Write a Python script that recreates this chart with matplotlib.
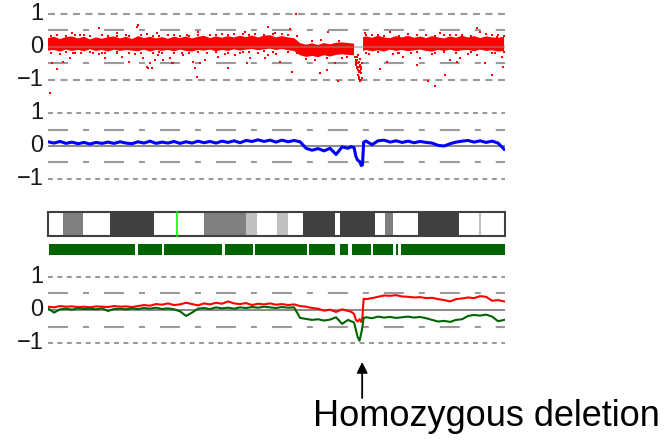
import numpy as np
import matplotlib
matplotlib.use("Agg")
import matplotlib.pyplot as plt

plt.rcParams['font.family'] = ['Liberation Sans', 'DejaVu Sans']
plt.rcParams['lines.scale_dashes'] = False

# Chromosome length (Mb)
chrom_len = 152.3

# Sample positions (Mb) shared by the segmented profiles
line_x = np.concatenate([np.arange(0, 102, 2),
                         [101, 102, 102.6, 103.2, 103.8, 104.4, 104.8, 105.2],
                         np.arange(106, 153, 2)])

# Panel 2: smoothed copy number (blue)
blue_y = [0.13, 0.09, 0.14, 0.08, 0.12, 0.07, 0.11, 0.06, 0.11, 0.08, 0.12, 0.08, 0.13,
          0.09, 0.07, 0.13, 0.09, 0.15, 0.08, 0.12, 0.09, 0.14, 0.08, 0.13, 0.09, 0.15,
          0.10, 0.14, 0.09, 0.15, 0.11, 0.16, 0.10, 0.17, 0.14, 0.19, 0.14, 0.18, 0.12,
          0.18, 0.13, 0.17, 0.13, -0.07, -0.13, -0.08, -0.15, -0.07, -0.26, -0.03, -0.07,
          -0.02, -0.05, -0.32, -0.44, -0.47, -0.60, -0.58, 0.12,
          0.15, 0.04, 0.16, 0.18, 0.12, 0.16, 0.11, 0.15, 0.10, 0.14, 0.11, 0.09, 0.02,
          0.00, 0.07, 0.12, 0.15, 0.17, 0.12, 0.16, 0.11, 0.15, 0.09, -0.10]

# Panel 3: two profiles (red and green)
red_y = [0.10, 0.08, 0.12, 0.10, 0.11, 0.09, 0.10, 0.08, 0.11, 0.10, 0.09, 0.12, 0.10,
         0.11, 0.09, 0.12, 0.15, 0.13, 0.18, 0.16, 0.20, 0.15, 0.17, 0.22, 0.18, 0.14,
         0.20, 0.17, 0.22, 0.19, 0.26, 0.20, 0.18, 0.21, 0.15, 0.19, 0.17, 0.20, 0.16,
         0.18, 0.15, 0.17, 0.12, 0.10, 0.06, 0.04, -0.02, 0.01, -0.06, 0.02, -0.03,
         -0.05, -0.12, -0.30, -0.35, -0.28, -0.36, -0.20, 0.34,
         0.33, 0.36, 0.40, 0.44, 0.43, 0.45, 0.41, 0.40, 0.38, 0.39, 0.36, 0.37, 0.33,
         0.30, 0.26, 0.33, 0.35, 0.38, 0.36, 0.42, 0.40, 0.28, 0.30, 0.26]

green_y = [0.05, -0.08, 0.02, 0.04, 0.01, 0.05, 0.03, 0.04, 0.02, 0.05, -0.03, 0.03, 0.04,
           0.02, 0.05, 0.03, 0.06, 0.04, 0.07, 0.03, 0.05, 0.02, -0.04, -0.18, -0.08, 0.04,
           0.06, 0.03, 0.08, 0.05, 0.07, 0.04, 0.08, 0.06, 0.09, 0.07, 0.10, 0.08, 0.06,
           0.09, 0.07, 0.08, -0.24, -0.27, -0.30, -0.28, -0.32, -0.29, -0.22, -0.42, -0.30,
           -0.34, -0.38, -0.60, -0.82, -0.93, -0.70, -0.50, -0.24,
           -0.22, -0.25, -0.20, -0.23, -0.21, -0.24, -0.22, -0.20, -0.23, -0.21, -0.25,
           -0.30, -0.35, -0.33, -0.36, -0.30, -0.28, -0.18, -0.15, -0.17, -0.14, -0.20,
           -0.34, -0.30]

# Panel 1: dense band of raw log ratios (upper / lower envelope)
band_x = list(range(0, 104, 2)) + [103.5] + [105] + list(range(106, 153, 2))
band_hi = [0.27, 0.31, 0.24, 0.30, 0.32, 0.26, 0.31, 0.23, 0.29, 0.25, 0.30, 0.32, 0.26,
           0.31, 0.24, 0.33, 0.27, 0.31, 0.26, 0.30, 0.25, 0.31, 0.27, 0.32, 0.26, 0.31,
           0.34, 0.27, 0.32, 0.28, 0.33, 0.29, 0.34, 0.30, 0.35, 0.29, 0.34, 0.36, 0.29,
           0.33, 0.29, 0.27, 0.12, 0.07, 0.11, 0.06, 0.12, 0.08, 0.13, 0.14, 0.12, 0.10,
           np.nan, 0.30,
           0.32, 0.28, 0.34, 0.29, 0.27, 0.33, 0.29, 0.34, 0.28, 0.32, 0.27, 0.33, 0.29,
           0.26, 0.32, 0.28, 0.34, 0.29, 0.33, 0.27, 0.32, 0.29, 0.28, 0.31]
band_lo = [-0.11, -0.09, -0.14, -0.08, -0.12, -0.09, -0.13, -0.07, -0.12, -0.09, -0.14,
           -0.08, -0.12, -0.09, -0.11, -0.13, -0.08, -0.14, -0.09, -0.12, -0.09, -0.13,
           -0.08, -0.12, -0.14, -0.09, -0.11, -0.08, -0.13, -0.09, -0.12, -0.07, -0.11,
           -0.08, -0.06, -0.10, -0.07, -0.05, -0.09, -0.06, -0.10, -0.12, -0.25, -0.30,
           -0.27, -0.31, -0.25, -0.29, -0.24, -0.22, -0.24, -0.25,
           np.nan, -0.12,
           -0.09, -0.13, -0.10, -0.14, -0.08, -0.12, -0.09, -0.13, -0.10, -0.08, -0.12,
           -0.14, -0.09, -0.12, -0.08, -0.13, -0.10, -0.09, -0.13, -0.08, -0.12, -0.10,
           -0.14, -0.12]

# Panel 1: scattered probes outside the band
scatter_x = [0.7, 1.4, 2.9, 5.1, 7.3, 8.4, 15.1, 19.0, 19.0, 22.9, 24.6, 27.1, 31.8, 32.9,
             33.4, 34.0, 34.6, 35.7, 36.8, 38.4, 40.7, 41.2, 41.8, 44.6, 48.4, 49.0, 49.6,
             50.7, 52.3, 56.8, 60.1, 62.3, 66.2, 67.3, 72.3, 73.4, 77.3, 81.2, 90.7, 92.9,
             95.7, 96.8, 99.6, 110.7, 112.9, 116.8, 118.4, 122.9, 124.0, 126.8, 129.0,
             132.3, 134.0, 136.2, 137.3, 145.7, 147.9, 151.2, 151.8,
             7.9, 10.7, 17.1, 22.9, 29.6, 30.1, 36.2, 46.2, 50.1, 65.7, 73.4, 75.7, 80.7,
             82.7, 93.4, 105.7, 114.0, 130.7, 142.9, 144.0, 149.6,
             3, 12, 20, 26, 33, 40, 44, 54, 58, 62, 69, 78, 88, 91, 97, 108, 112, 120, 126,
             134, 138, 146, 150,
             4, 11, 17, 29, 38, 45, 53, 59, 64, 70, 76, 86, 89, 93, 98, 107, 115, 121, 128,
             140, 143, 149,
             1, 6, 9, 14, 18, 23, 27, 31, 35, 37, 42, 47, 50, 56, 60, 65, 67, 72, 75, 80,
             83, 106, 110, 117, 123, 129, 132, 136, 141, 148, 152,
             1, 6, 9, 14, 18, 23, 27, 31, 35, 37, 42, 47, 50, 56, 60, 65, 67, 72, 75, 80,
             83, 106, 110, 117, 123, 129, 132, 136, 141, 148, 152]
scatter_y = [-1.39, -0.50, -0.68, -0.45, -0.34, -0.19, -0.19, -0.19, -0.34, -0.19, -0.29,
             -0.45, -0.34, -0.60, -0.65, -0.49, -0.65, -0.39, -0.24, -0.39, -0.34, -0.49,
             -0.49, -0.19, -0.45, -0.65, -0.90, -0.49, -0.39, -0.29, -0.65, -0.24, -0.49,
             -0.34, -0.34, -0.24, -0.45, -0.75, -0.80, -0.70, -0.49, -1.03, -0.29, -0.68,
             -0.45, -0.19, -0.29, -0.55, -0.34, -1.03, -1.18, -0.85, -0.39, -0.45, -0.34,
             -0.49, -0.85, -0.29, -0.60,
             0.41, 0.36, 0.57, 0.41, 0.62, 0.67, 0.41, 0.36, 0.46, 0.46, 0.62, 0.41, 0.54,
             1.00, 0.46, 0.41, 0.46, 0.41, 0.57, 0.46, 0.31,
             0.35, 0.37, 0.34, 0.36, 0.38, 0.35, 0.33, 0.37, 0.40, 0.38, 0.40, 0.38, 0.18,
             0.20, 0.19, 0.37, 0.34, 0.38, 0.36, 0.37, 0.35, 0.38, 0.36,
             -0.20, -0.18, -0.22, -0.20, -0.19, -0.24, -0.18, -0.21, -0.19, -0.17, -0.20,
             -0.36, -0.40, -0.34, -0.33, -0.20, -0.22, -0.18, -0.21, -0.20, -0.23, -0.19,
             0.33, 0.34, 0.36, 0.33, 0.35, 0.34, 0.33, 0.36, 0.34, 0.33, 0.35, 0.34, 0.37,
             0.35, 0.36, 0.38, 0.37, 0.36, 0.39, 0.35, 0.33, 0.35, 0.36, 0.34, 0.37, 0.33,
             0.35, 0.36, 0.34, 0.35, 0.33,
             -0.17, -0.16, -0.18, -0.15, -0.17, -0.16, -0.18, -0.17, -0.19, -0.16, -0.18,
             -0.17, -0.16, -0.15, -0.17, -0.14, -0.15, -0.13, -0.14, -0.16, -0.18, -0.17,
             -0.16, -0.18, -0.15, -0.17, -0.16, -0.18, -0.15, -0.17, -0.16]

# Panel 1: probes inside the homozygous deletion
deletion_x = [102.4, 102.6, 102.8, 103.0, 103.2, 103.4, 103.6, 103.8, 104.0, 104.2, 104.4,
              104.6, 102.5, 102.9, 103.3, 103.7, 104.1, 104.5, 102.7, 103.1, 103.5, 103.9,
              104.3, 103.0, 103.6, 104.2, 103.3, 103.9]
deletion_y = [-0.30, -0.45, -0.55, -0.60, -0.50, -0.70, -0.62, -0.75, -0.55, -0.68, -0.80,
              -0.50, -0.38, -0.65, -0.85, -0.90, -0.72, -0.95, -0.50, -0.40, -0.98, -1.02,
              -0.60, -0.30, -0.45, -1.00, -0.25, -0.35]

# Cytoband ideogram: start, end (Mb) and stain
band_start = [0, 5, 11.7, 20.7, 35.3, 52, 66, 69.7, 76.3, 80, 85, 95.7, 97.3, 109, 112.3,
              115, 123.3, 137, 143.7, 144.3]
band_end = [5, 11.7, 20.7, 35.3, 52, 66, 69.7, 76.3, 80, 85, 95.7, 97.3, 109, 112.3, 115,
            123.3, 137, 143.7, 144.3, 152.3]
band_stain = ['gneg', 'gpos50', 'gneg', 'gpos75', 'gneg', 'gpos50', 'gpos25', 'gneg',
              'gpos25', 'gneg', 'gpos75', 'gneg', 'gpos75', 'gneg', 'gpos50', 'gneg',
              'gpos75', 'gneg', 'gpos25', 'gneg']
centromere = 43.0

# Covered segments under the ideogram (Mb)
cover_start = [0.3, 30, 38.7, 59, 69, 87, 97.3, 101.3, 108.3, 116, 117.7]
cover_end = [29, 38, 58, 68.3, 86.3, 95.7, 100, 107.7, 115, 116.7, 152.3]

stain_colors = {'gneg': 'white', 'gpos25': '#c0c0c0', 'gpos50': '#808080', 'gpos75': '#404040'}


def px_axes(fig, top, bottom):
    # axes placed with pixel rows (from the top of the figure)
    H = 447.0
    ax = fig.add_axes([48 / 665.0, 1 - bottom / H, 457 / 665.0, (bottom - top) / H])
    ax.set_xlim(0, chrom_len)
    ax.axis('off')
    return ax


def draw_grid(ax, short_dash):
    for v in (1, -1):
        ax.axhline(v, color='#9a9a9a', lw=1.5, dashes=short_dash, zorder=1)
    for v in (0.5, -0.5):
        ax.axhline(v, color='#9a9a9a', lw=1.5, dashes=(14.4, 10.8, 4.3, 10.8), zorder=1)
    for v, lab in ((1, '1'), (0, '0'), (-1, '\u22121')):
        ax.text(-1.5, v, lab, ha='right', va='center', fontsize=17, color='#1a1a1a')


def main():
    fig = plt.figure(figsize=(6.65, 4.47), dpi=100)

    # Panel 1: raw ratios
    ax1 = px_axes(fig, 1, 95)
    ax1.set_ylim(-1.455, 1.394)
    draw_grid(ax1, (5.0, 4.0))
    ax1.fill_between(band_x, band_lo, band_hi, color='red', lw=0, zorder=2)
    ax1.axhline(0, color='#8c8c8c', lw=1.5, alpha=0.5, zorder=3)
    ax1.plot(scatter_x, scatter_y, 's', ms=2.0, mew=0, color='red', zorder=4)
    ax1.plot(deletion_x, deletion_y, 's', ms=2.0, mew=0, color='red', zorder=4)

    # Panel 2: smoothed profile
    ax2 = px_axes(fig, 100, 192)
    ax2.set_ylim(-1.415, 1.415)
    draw_grid(ax2, (3.5, 3.3))
    ax2.axhline(0, color='#8c8c8c', lw=1.5, zorder=2)
    ax2.plot(line_x, blue_y, color='blue', lw=2.2, zorder=3)

    # Ideogram and covered segments
    axi = px_axes(fig, 205, 260)
    axi.set_ylim(0, 1)
    y0, y1 = 0.436, 0.873
    for s, e, st in zip(band_start, band_end, band_stain):
        axi.broken_barh([(s, e - s)], (y0, y1 - y0), facecolors=stain_colors[st], lw=0)
    axi.plot([centromere, centromere], [y0, y1], color='#00ff00', lw=1.2)
    axi.add_patch(plt.Rectangle((0, y0), chrom_len, y1 - y0, fill=False,
                                edgecolor='#404040', lw=1.5, clip_on=False))
    segs = [(s, e - s) for s, e in zip(cover_start, cover_end)]
    axi.broken_barh(segs, (0.091, 0.2), facecolors='#006400', lw=0)

    # Panel 3: two profiles
    ax3 = px_axes(fig, 262, 358)
    ax3.set_ylim(-1.4545, 1.4545)
    draw_grid(ax3, (3.5, 3.3))
    ax3.axhline(0, color='#8c8c8c', lw=1.5, zorder=2)
    ax3.plot(line_x, red_y, color='red', lw=1.5, zorder=3)
    ax3.plot(line_x, green_y, color='#006400', lw=1.5, zorder=4)

    # Arrow and label for the deletion
    ax3.annotate('', xy=(104.7, 447 - 362), xycoords=('data', 'figure pixels'),
                 xytext=(104.7, 447 - 398), textcoords=('data', 'figure pixels'),
                 arrowprops=dict(arrowstyle='-|>', color='black', lw=1.3,
                                 mutation_scale=16, shrinkA=0, shrinkB=0))
    fig.text(486 / 665.0, 1 - 426 / 447.0, 'Homozygous deletion', ha='center',
             va='baseline', fontsize=26)

    fig.savefig('out.png', dpi=100)


if __name__ == "__main__":
    main()
